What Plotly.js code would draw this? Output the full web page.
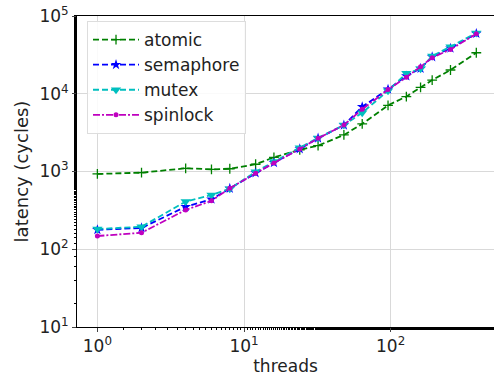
<!DOCTYPE html>
<html>
<head>
<meta charset="utf-8">
<script src="https://cdn.plot.ly/plotly-3.0.1.min.js"></script>
<style>html,body{margin:0;padding:0;background:#fff;}#chart{width:494px;height:376px;}</style>
</head>
<body>
<div id="chart"></div>
<script>
const threads = [1, 2, 4, 6, 8, 12, 16, 24, 32, 48, 64, 96, 128, 160, 192, 256, 384];
const atomic = [930, 965, 1100, 1065, 1085, 1240, 1520, 1900, 2150, 2950, 4100, 7100, 9200, 12100, 15000, 20200, 33700];
const semaphore = [178, 188, 352, 440, 605, 960, 1300, 1950, 2680, 3950, 6800, 11400, 16900, 21200, 29800, 38500, 59500];
const mutex = [182, 195, 410, 500, 600, 990, 1340, 2020, 2700, 3950, 5700, 10900, 18300, 20900, 30600, 40300, 60500];
const spinlock = [148, 163, 320, 420, 610, 950, 1290, 1950, 2670, 3960, 6300, 11300, 16300, 22300, 29100, 37200, 59000];
const seriesNames = ['atomic', 'semaphore', 'mutex', 'spinlock'];
const tickVals = [1, 10, 100];
const tickText = ['10<sup>0</sup>', '10<sup>1</sup>', '10<sup>2</sup>'];
const yTickVals = [10, 100, 1000, 10000, 100000];
const yTickText = ['10<sup>1</sup>', '10<sup>2</sup>', '10<sup>3</sup>', '10<sup>4</sup>', '10<sup>5</sup>'];

const traces = [
  {x: threads, y: atomic, name: seriesNames[0], mode: 'lines+markers',
   line: {color: '#008000', width: 1.8, dash: '6px,3px'},
   marker: {symbol: 'cross-thin', size: 7, line: {color: '#008000', width: 1.3}}},
  {x: threads, y: semaphore, name: seriesNames[1], mode: 'lines+markers',
   line: {color: '#0000ff', width: 1.8, dash: '6px,3px'},
   marker: {symbol: 'star', size: 8, color: '#0000ff'}},
  {x: threads, y: mutex, name: seriesNames[2], mode: 'lines+markers',
   line: {color: '#00bfbf', width: 1.8, dash: '6px,3px'},
   marker: {symbol: 'triangle-down', size: 9, color: '#00bfbf'}},
  {x: threads, y: spinlock, name: seriesNames[3], mode: 'lines+markers',
   line: {color: '#bf00bf', width: 1.8, dash: '7px,2px,2px,2px'},
   marker: {symbol: 'circle', size: 5, color: '#bf00bf'}}
];

const fontFam = 'DejaVu Sans, sans-serif';
const layout = {
  width: 494, height: 376,
  margin: {l: 77, r: 0, t: 16, b: 49},
  paper_bgcolor: '#fff', plot_bgcolor: '#fff',
  font: {family: fontFam, size: 16, color: '#222'},
  showlegend: true,
  legend: {x: 0.024, y: 0.984, xanchor: 'left', yanchor: 'top',
    bgcolor: 'rgba(255,255,255,0.85)', bordercolor: '#dddddd', borderwidth: 1,
    itemwidth: 46,
    font: {family: fontFam, size: 17, color: '#222'}},
  xaxis: {type: 'log', range: [-0.139, 2.705],
    tickvals: tickVals, ticktext: tickText, ticks: 'outside', ticklen: 4,
    showline: true, linecolor: '#000', linewidth: 1, mirror: true,
    showgrid: true, gridcolor: '#d9d9d9', gridwidth: 1, zeroline: false,
    tickfont: {size: 17, color: '#222'},
    minor: {ticks: 'outside', ticklen: 2, tickcolor: '#000', showgrid: false},
    title: {text: 'threads', font: {size: 17, color: '#222'}, standoff: 3}},
  yaxis: {type: 'log', range: [1, 5],
    tickvals: yTickVals, ticktext: yTickText, ticks: 'outside', ticklen: 4,
    showline: true, linecolor: '#000', linewidth: 1, mirror: false,
    showgrid: true, gridcolor: '#d9d9d9', gridwidth: 1, zeroline: false,
    tickfont: {size: 17, color: '#222'},
    minor: {ticks: 'outside', ticklen: 2, tickcolor: '#000', showgrid: false},
    title: {text: 'latency (cycles)', font: {size: 18, color: '#222'}, standoff: 6}}
};

Plotly.newPlot('chart', traces, layout, {displayModeBar: false, staticPlot: true});
</script>
</body>
</html>
